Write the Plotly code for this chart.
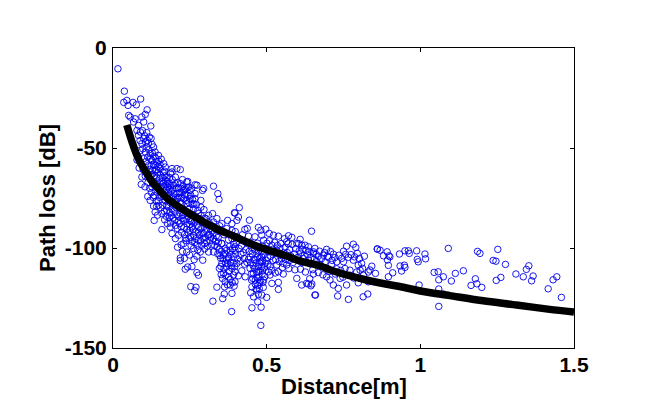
import plotly.graph_objects as go

# Values: (distance in m, path loss in dB)
scatter_samples = [
(.016,-10.4),(.037,-21.6),(.035,-27.2),(.045,-26.2),(.049,-28.7),(.065,-27.2),(.076,-28.4),(.090,-25.5),(.111,-30.9),(.105,-33.2),
(.051,-33.7),(.056,-34.5),(.072,-35.4),(.094,-34.5),(.100,-37),(.123,-39),(.083,-38.7),(.067,-37),(.078,-41.2),(.089,-42),
(.110,-42.3),(.118,-44.5),(.100,-45.3),(.083,-43.7),(.094,-47.8),(.127,-48.2),(.132,-49.5),(.110,-49.5),(.137,-52),(.148,-53.7),
(.121,-52.8),(.105,-52),(.089,-51.2),(.083,-54.5),(.078,-56),(.100,-55.3),(.127,-56.2),(.143,-57),(.165,-57.8),(.170,-59.5),
(.192,-60.3),(.192,-62),(.208,-60.3),(.219,-60.8),(.154,-60.3),(.137,-61),(.116,-58.6),(.085,-60),(.094,-64.5),(.105,-64.1),
(.121,-63.6),(.154,-63.6),(.176,-64.8),(.203,-64.5),(.219,-67.8),(.240,-67),(.203,-67.8),(.181,-67.8),(.159,-67),(.246,-69.5),
(.273,-68.6),(.295,-70.3),(.327,-69.1),(.341,-72.8),(.345,-75.7),(.291,-71.2),(.267,-68.4),(.243,-66.7),(.184,-64.9),(.230,-71.2),
(.251,-71.2),(.267,-72.8),(.267,-75.3),(.251,-75.3),(.286,-76.2),(.230,-75.3),(.208,-72.8),(.197,-74.5),(.181,-72),(.165,-69.5),
(.170,-66.2),(.143,-67),(.127,-69.5),(.134,-73.7),(.132,-79),(.148,-78.7),(.137,-82),(.159,-82.8),(.175,-81.2),(.192,-80.3),
(.175,-78.7),(.224,-77.8),(.240,-77.8),(.262,-80.3),(.278,-82.8),(.311,-83.7),(.324,-82.8),(.338,-85.3),(.397,-82.5),(.411,-79.8),
(.408,-84.5),(.403,-86.2),(.373,-86.2),(.387,-87.8),(.354,-87.8),(.327,-87),(.134,-86.2),(.159,-90.8),(.186,-89.5),(.203,-88.7),
(.230,-86.2),(.251,-86.2),(.273,-88.7),(.192,-92.8),(.203,-95.3),(.230,-97.8),(.213,-93.6),(.240,-102),(.262,-100.3),(.284,-102),
(.311,-102),(.327,-102),(.219,-105),(.273,-104.1),(.251,-91.2),(.262,-93.6),(.278,-96.1),(.295,-92.8),(.316,-90.3),(.343,-91.2),
(.370,-90.3),(.387,-91.2),(.289,-98.6),(.305,-97),(.327,-95.3),(.354,-97.8),(.370,-101.1),(.387,-95.3),(.403,-94.5),(.360,-103.6),
(.376,-104.5),(.397,-101.1),(.395,-82.4),(.444,-86.1),(.437,-90.2),(.473,-89.7),(.481,-91.1),(.497,-90.6),(.508,-92.7),(.522,-93.6),
(.538,-94.1),(.571,-93.9),(.582,-94.7),(.565,-96.9),(.646,-91.6),(.609,-95.7),(.598,-97.7),(.614,-98.6),(.636,-99.4),(.657,-100.2),
(.652,-101.9),(.517,-98.6),(.533,-101.1),(.490,-96.1),(.462,-94.4),(.441,-94.1),(.484,-93.6),(.446,-104.4),(.462,-106),(.484,-104.4),
(.495,-107.7),(.511,-109.4),(.533,-108.5),(.554,-107.7),(.565,-108.5),(.538,-111.9),(.554,-113),(.598,-115.2),(.652,-113),(.614,-118.5),
(.636,-118),(.647,-118),(.659,-123.5),(.517,-117.7),(.538,-117.2),(.538,-120.7),(.490,-116),(.457,-112.7),(.451,-116),(.468,-121),
(.484,-123.5),(.500,-124.7),(.473,-123.2),(.457,-124.4),(.448,-122.4),(.387,-122.7),(.362,-123),(.430,-114.4),(.392,-113.5),(.397,-116.9),
(.381,-118.5),(.365,-116.9),(.446,-110.2),(.473,-111.9),(.484,-109.4),(.506,-111.9),(.511,-113.5),(.354,-97.7),(.365,-100.2),(.381,-101.1),
(.397,-99.4),(.376,-105.2),(.392,-104.4),(.403,-107.7),(.354,-107.7),(.370,-109.4),(.387,-110.2),(.397,-111.9),(.360,-112.7),(.376,-114.4),
(.625,-98.6),(.695,-100.7),(.760,-99.1),(.782,-98.1),(.790,-99.7),(.750,-101.6),(.795,-102.7),(.818,-104.1),(.766,-104.7),(.717,-103.1),
(.701,-104.7),(.685,-103.6),(.668,-104.1),(.652,-102.7),(.636,-106.1),(.619,-105.2),(.728,-106.9),(.750,-106.9),(.782,-106.1),(.809,-107.7),
(.798,-108.6),(.842,-109.1),(.836,-111),(.854,-112.7),(.860,-100.6),(.869,-101.1),(.892,-101.9),(.898,-103.9),(.630,-117.7),(.644,-118.9),
(.657,-123.5),(.695,-114.4),(.706,-116),(.717,-118.5),(.733,-120.2),(.731,-124),(.766,-125.7),(.760,-118.5),(.798,-117.4),(.814,-124.4),
(.829,-123),(.831,-116.9),(.739,-115.2),(.771,-113.6),(.614,-107.3),(.641,-107.9),(.663,-106.8),(.674,-108.2),(.690,-107),(.711,-108.3),
(.728,-110.4),(.741,-111.2),(.755,-110.3),(.771,-111.1),(.793,-112),(.804,-111.1),(.815,-113.6),(.831,-112),(.650,-110.8),(.668,-112.3),
(.683,-113.4),(.703,-111.8),(.723,-113),(.748,-114.6),(.783,-115),(.610,-110.6),(.626,-112),(.640,-115.4),(.575,-100.8),(.590,-103),
(.606,-101.4),(.560,-99.6),(.545,-103.4),(.524,-102.6),(.505,-101.8),(.487,-99.1),(.470,-97.6),(.452,-99.7),(.433,-97.2),(.418,-98.9),
(.424,-102.3),(.441,-105.7),(.414,-106.6),(.428,-108.1),(.419,-111.4),(.408,-113.9),(.586,-107.2),(.572,-110.3),(.592,-110.9),(.521,-106.2),
(.549,-105.3),(.503,-104.7),(.528,-112.5),(.468,-102.7),(.477,-107.3),(.456,-108.8),(.469,-114.7),(.485,-113.2),(.463,-118.1),(.477,-117.1),
(.452,-119.4),(.489,-119.7),(.471,-126.9),(.452,-129.9),(.482,-129.6),(.481,-138.7),(.386,-131.8),(.325,-126.6),(.357,-125.3),(.388,-117.3),
(.363,-119.4),(.338,-119.6),(.394,-119.1),(.352,-113.3),(.346,-110.2),(.366,-107.6),(.382,-107.2),(.350,-105.1),(.341,-102.9),(.343,-97.1),
(.331,-98.8),(.318,-94.6),(.305,-88.4),(.292,-87.3),(.299,-85.1),(.286,-79.6),(.254,-83.2),(.239,-81.9),(.218,-82.6),(.207,-83.4),
(.196,-85.1),(.183,-84.7),(.168,-85.9),(.177,-87.8),(.145,-83.6),(.212,-86.5),(.222,-89.4),(.240,-90.7),(.233,-93.2),(.247,-95.1),
(.258,-89.4),(.266,-97.2),(.254,-98.9),(.238,-96.3),(.222,-98.4),(.210,-99.6),(.226,-101.7),(.277,-92.1),(.286,-90.3),(.301,-94.8),
(.312,-93.2),(.323,-91.1),(.336,-93.9),(.347,-88.9),(.361,-93.4),(.376,-95.9),(.398,-91.8),(.421,-93.4),(.429,-90.7),(.219,-106.3),
(.235,-110.6),(.243,-109.5),(.257,-109.3),(.273,-112.3),(.278,-113.6),(.253,-119.3),(.270,-119.6),(.266,-121.4),(.298,-100.4),(.276,-100.9),
(.249,-103.5),(.232,-105.2),(.264,-105.8),(.292,-106.1),(.115,-47.6),(.124,-45.2),(.106,-47.1),(.096,-41.3),(.113,-54.6),(.128,-52.5),
(.139,-55.1),(.119,-60.7),(.132,-58.4),(.147,-59.2),(.157,-55.6),(.163,-62.1),(.127,-63.2),(.143,-64.7),(.114,-67.2),(.111,-62.6),
(.150,-70.8),(.174,-70.9),(.190,-71.6),(.163,-73.6),(.151,-74.7),(.121,-76.2),(.141,-76.6),(.170,-76.4),(.186,-77.3),(.204,-76.6),
(.214,-74.7),(.222,-72.3),(.237,-73.2),(.257,-78.2),(.271,-78.4),(.296,-80.8),(.158,-74.1),(.178,-69.6),(.197,-68.6),(.213,-69.9),
(.226,-65.8),(.187,-62.6),(.168,-61.6),(.146,-69.3),(.131,-74.7),(.104,-69.4),(.113,-74.2),(.098,-60.8),(.119,-70.2),(.092,-68.2),
(.860,-100.4),(.880,-103.9),(.901,-104.4),(.893,-106),(.896,-108.7),(.932,-103),(.950,-101.4),(.961,-101.4),(.964,-102.7),(.988,-101.4),
(.990,-105.7),(.993,-106.9),(1.015,-103),(1.017,-105.4),(1.091,-100.2),(1.186,-101.7),(1.194,-102.7),(1.252,-100.7),(1.237,-106.2),(1.246,-106.6),
(1.277,-108.2),(1.353,-108.9),(1.345,-110.7),(1.311,-113),(1.335,-114.4),(1.367,-114),(1.362,-116.4),(1.444,-114.4),(1.432,-115.9),(1.416,-120.4),
(1.459,-124.7),(1.262,-114.7),(1.247,-116.2),(1.200,-119.7),(1.184,-117.9),(1.179,-115.4),(1.165,-118.7),(1.140,-111.4),(1.114,-112.7),(1.101,-116.5),
(1.075,-114.4),(1.058,-111.9),(1.045,-112.2),(1.060,-115.9),(1.060,-120.5),(1.075,-123),(1.060,-129.2),(.996,-118.5),(.896,-114.4),(.910,-112.4),
(.934,-109),(.948,-108.6),(.950,-109.7),(.939,-111.5),
# dense band beside the curve
(.088,-46.3),(.097,-50.4),(.103,-43.9),(.108,-56.7),(.112,-46.2),(.117,-50.9),(.122,-55.3),(.124,-58.9),(.129,-61.3),(.133,-54.2),
(.135,-63.8),(.139,-58.7),(.142,-60.9),(.145,-62.4),(.149,-56.6),(.151,-65.4),(.153,-58.3),(.156,-69.2),(.161,-64.8),(.164,-67.6),
(.167,-71.3),(.169,-63.9),(.172,-68.4),(.173,-73.8),(.177,-66.7),(.179,-75.6),(.183,-70.4),(.185,-73.9),(.188,-68.8),(.191,-75.3),
(.193,-65.8),(.195,-70.6),(.199,-72.9),(.201,-78.1),(.205,-70.2),(.209,-75.4),(.211,-67.3),(.216,-72.4),(.218,-76.9),(.221,-70.1),
(.224,-74.8),(.228,-69.2),(.232,-73.4),(.235,-70.7),(.238,-76.2),(.241,-69.8),(.244,-73.7),(.247,-77.3),(.253,-73.6),(.256,-70.1),
(.259,-75.8),(.263,-77.9),(.125,-72.3),(.130,-68.1),(.138,-71.6),(.142,-79.2),(.147,-76.4),(.155,-79.9),(.162,-78.6),(.167,-81.7),
(.173,-84.1),(.179,-79.4),(.184,-82.3),(.188,-87.4),(.190,-83.8),(.194,-78.2),(.199,-81.6),(.201,-86.3),(.205,-79.7),(.209,-90.2),
(.214,-84.3),(.217,-87.8),(.220,-80.4),(.223,-92.1),(.225,-85.2),(.228,-83.7),(.231,-89.6),(.234,-81.3),(.236,-95.2),(.238,-85.8),
(.241,-87.9),(.243,-84.2),(.245,-92.4),(.248,-80.6),(.250,-88.3),(.252,-94.6),(.255,-86.9),(.257,-96.7),(.259,-83.4),(.261,-90.8),
(.264,-87.2),(.266,-84.7),(.268,-91.9),(.270,-95.4),(.272,-86.1),(.274,-98.6),(.276,-81.2),(.279,-89.7),(.281,-93.6),(.283,-85.3),
(.285,-96.4),(.287,-83.9),(.290,-92.7),(.293,-95.1),(.296,-89.2),(.298,-97.8),(.302,-91.2),(.304,-85.4),(.307,-99.1),(.309,-93.7),
(.313,-87.4),(.315,-96.2),(.319,-88.6),(.321,-98.4),(.325,-92.9),(.329,-89.3),(.333,-96.7),(.335,-90.7),(.339,-99.2),(.342,-94.8),
# column near 0.37 and near 0.47
(.345,-100.6),(.348,-103.8),(.351,-109.2),(.353,-101.7),(.356,-115.2),(.358,-105.3),(.361,-110.4),(.364,-102.8),(.367,-113.7),(.369,-105.9),
(.372,-118.4),(.374,-107.8),(.377,-111.6),(.379,-99.2),(.381,-115.7),(.384,-103.2),(.385,-108.9),(.389,-100.4),(.391,-107.6),(.393,-98.2),
(.396,-109.3),(.399,-103.1),(.401,-97.3),(.405,-105.4),(.410,-100.3),(.416,-103.2),(.422,-96.4),(.427,-105.3),(.432,-100.8),(.436,-107.2),
(.443,-101.7),(.447,-97.3),(.449,-107.4),(.451,-112.8),(.453,-102.9),(.455,-115.2),(.458,-105.7),(.460,-110.4),(.461,-100.9),(.463,-116.1),
(.465,-107.6),(.466,-120.4),(.467,-112.1),(.470,-104.6),(.471,-118.7),(.472,-109.3),(.474,-101.4),(.475,-114.6),(.476,-120.3),(.478,-104.9),
(.479,-111.2),(.480,-116.2),(.482,-106.7),(.483,-101.8),(.486,-111.1),(.487,-106.2),(.488,-117.2),(.491,-103.1),(.492,-109.8),(.494,-114.3),
(.497,-100.3),(.499,-106.3),(.501,-97.6),(.504,-108.1),(.509,-96.4),(.513,-104.2),(.516,-111.2),(.519,-100.7),(.526,-97.2),(.529,-105.8),
(.535,-98.8),(.541,-106.7),(.543,-100.1),(.547,-97.8),(.551,-109.8),(.555,-102.4),(.558,-95.3),(.562,-105.7),(.567,-102.3),(.570,-97.9),
(.574,-106.3),(.578,-103.9),(.583,-98.2),(.588,-105.6),(.594,-100.4),(.601,-104.7),(.604,-97.8),(.611,-102.6),(.617,-100.7),(.622,-103.8),
(.628,-101.2),(.633,-103.4),(.638,-101.7),(.644,-104.9),(.655,-105.6),(.661,-103.2),(.672,-101.6),(.678,-105.4),(.688,-102.3),(.698,-104.1),
(.708,-101.8),(.713,-106.2),(.722,-104.8),(.735,-103.6),(.744,-105.2),(.757,-103.2),(.774,-103.3),(.786,-104.4),(.802,-105.3),(.812,-110.2),
]
distance_m = [s[0] for s in scatter_samples]
path_loss_db = [s[1] for s in scatter_samples]

fit_distance = [.045,.062,.083,.105,.121,.148,.175,.230,.284,.338,.392,.457,.565,.609,.674,.717,.825,.955,1.0,1.096,1.205,1.313,1.421,1.5]
fit_loss = [-38.5,-47,-55.5,-61.5,-65.5,-70.5,-75,-81,-86,-90.5,-94,-98.5,-104,-106.5,-109,-111.5,-116,-120,-121.5,-123.8,-126.4,-128.5,-130.7,-132]

x_ticks = [0, 0.5, 1, 1.5]
x_tick_labels = ["0", "0.5", "1", "1.5"]
y_ticks = [-150, -100, -50, 0]
y_tick_labels = ["-150", "-100", "-50", "0"]

FONT = "Liberation Sans"
fig = go.Figure()
fig.add_trace(go.Scatter(x=distance_m, y=path_loss_db, mode="markers", showlegend=False,
    marker=dict(symbol="circle-open", size=6.5, color="#0000ee", line=dict(width=0.9, color="#0000ee"))))
fig.add_trace(go.Scatter(x=fit_distance, y=fit_loss, mode="lines", showlegend=False,
    line=dict(color="black", width=7.5, shape="spline", smoothing=0.8)))
axis = dict(showgrid=False, zeroline=False, showline=True, linecolor="black", linewidth=1,
            mirror="ticks", ticks="inside", ticklen=4, tickcolor="black", tickwidth=1,
            tickfont=dict(family=FONT, size=21, color="black"))
fig.update_xaxes(range=[0, 1.5], tickvals=x_ticks, ticktext=x_tick_labels, ticklabelstandoff=-2, **axis)
fig.update_yaxes(range=[-150, 0], tickvals=y_ticks, ticktext=y_tick_labels, ticklabelstandoff=1,
                 title=dict(text="<b>Path loss [dB]</b>", font=dict(family=FONT, size=22, color="black"), standoff=3), **axis)
fig.update_layout(width=659, height=409, paper_bgcolor="white", plot_bgcolor="white",
                  margin=dict(l=104.5, r=93, t=39.5, b=69, autoexpand=False),
                  font=dict(family=FONT, size=21, color="black", weight="bold"),
                  annotations=[dict(text="<b>Distance[m]</b>", xref="paper", yref="paper", x=0.5, y=-0.0,
                                    yshift=-24, yanchor="top", showarrow=False, xanchor="center",
                                    font=dict(family=FONT, size=22, color="black"))])
fig.write_html("out.html")
